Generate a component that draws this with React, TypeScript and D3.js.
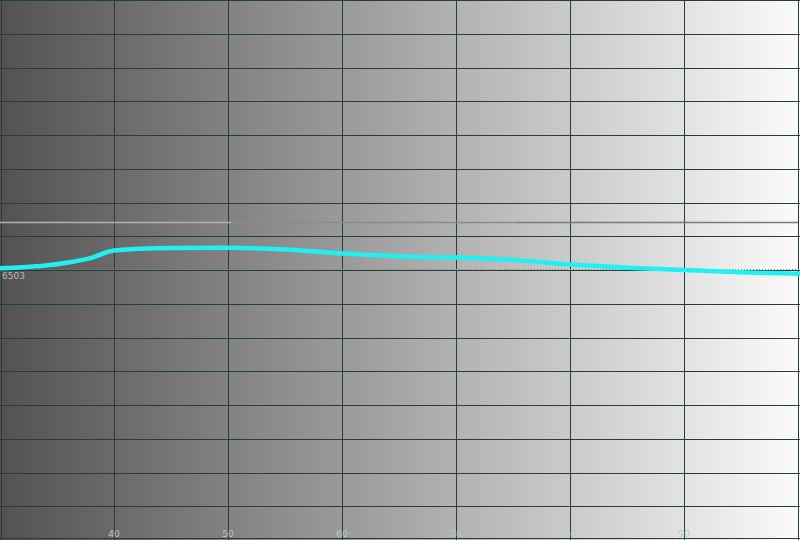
import React, { useRef, useEffect } from 'react';
import * as d3 from 'd3';

// measured colour temperature (K) vs. brightness (%)
const levels = [30, 32, 34, 36, 38, 40, 45, 50, 55, 60, 65, 70, 75, 80, 85, 90, 95, 100];
const cct = [6508, 6511, 6516, 6525, 6539, 6561, 6568, 6569, 6564, 6552, 6544, 6540, 6533, 6519, 6510, 6503, 6496, 6492];

const xTicks = [40, 50, 60, 70, 80, 90];
const xGrid = [30, 40, 50, 60, 70, 80, 90, 100];
const yGrid = d3.range(5703, 7304, 100);
const target = 6503;
const refLevel = 6645;
const refBreaks = [30, 50.3, 75.3, 100];

const W = 800;
const H = 540;

const App: React.FC = () => {
    const ref = useRef<SVGSVGElement | null>(null);

    useEffect(() => {
        const svg = d3.select(ref.current);
        svg.selectAll('*').remove();

        const x = d3.scaleLinear().domain([30, 100]).range([0, 798]);
        const y = d3.scaleLinear().domain([5703, 7303]).range([H, 0]);

        const defs = svg.append('defs');
        const grad = defs
            .append('linearGradient')
            .attr('id', 'bg')
            .attr('x1', '0%')
            .attr('x2', '100%');
        grad.append('stop').attr('offset', '0%').attr('stop-color', '#535151');
        grad.append('stop').attr('offset', '100%').attr('stop-color', '#fbfbfb');

        svg.append('rect').attr('width', W).attr('height', H).attr('fill', 'url(#bg)');

        // grid
        const grid = svg.append('g').attr('stroke', '#21403a').attr('stroke-width', 1);
        grid
            .selectAll('line.v')
            .data(xGrid)
            .enter()
            .append('line')
            .attr('x1', d => Math.max(1.5, x(d) + 0.5))
            .attr('x2', d => Math.max(1.5, x(d) + 0.5))
            .attr('y1', 0)
            .attr('y2', H);
        grid
            .selectAll('line.h')
            .data(yGrid)
            .enter()
            .append('line')
            .attr('x1', 0)
            .attr('x2', W)
            .attr('y1', d => Math.min(H - 1.5, Math.round(y(d)) + 0.5))
            .attr('y2', d => Math.min(H - 1.5, Math.round(y(d)) + 0.5));

        // reference line
        const segColors = ['#b2b2b2', '#8a8a8a', '#7a7a7a'];
        svg
            .append('g')
            .selectAll('line')
            .data(d3.pairs(refBreaks))
            .enter()
            .append('line')
            .attr('x1', d => x(d[0]))
            .attr('x2', d => x(d[1]))
            .attr('y1', Math.round(y(refLevel)) + 0.5)
            .attr('y2', Math.round(y(refLevel)) + 0.5)
            .attr('stroke', (_, i) => segColors[i])
            .attr('stroke-width', 1.5);

        // target dotted line
        svg
            .append('line')
            .attr('x1', 0)
            .attr('x2', W)
            .attr('y1', y(target) - 0.5)
            .attr('y2', y(target) - 0.5)
            .attr('stroke', '#858585')
            .attr('stroke-width', 1)
            .attr('stroke-dasharray', '1,2');

        svg
            .append('text')
            .attr('x', 2)
            .attr('y', y(target) + 9)
            .attr('fill', '#bdbdbd')
            .style('font-family', 'DejaVu Sans, sans-serif')
            .style('font-size', '9px')
            .text(String(target));

        // x labels
        svg
            .append('g')
            .selectAll('text')
            .data(xTicks)
            .enter()
            .append('text')
            .attr('x', d => x(d))
            .attr('y', 537)
            .attr('text-anchor', 'middle')
            .attr('fill', '#c2c2c2')
            .style('font-family', 'DejaVu Sans, sans-serif')
            .style('font-size', '9px')
            .text(d => String(d));

        // measured curve
        const line = d3
            .line<number>()
            .x((_, i) => x(levels[i]))
            .y(d => y(d))
            .curve(d3.curveMonotoneX);

        svg
            .append('path')
            .datum(cct)
            .attr('d', line)
            .attr('fill', 'none')
            .attr('stroke', '#1ff0f0')
            .attr('stroke-width', 4.5)
            .attr('stroke-linecap', 'round');
    }, []);

    return (
        <svg
            ref={ref}
            width={W}
            height={H}
            style={{ position: 'absolute', left: 0, top: 0, display: 'block' }}
        ></svg>
    );
};

export default App;
